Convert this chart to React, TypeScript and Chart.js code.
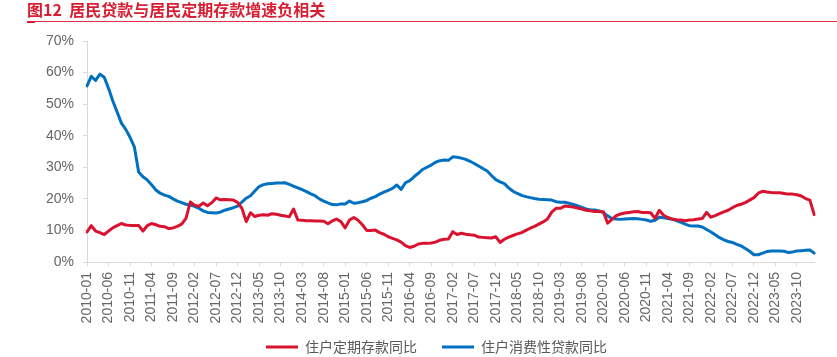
import React, { useEffect, useRef } from 'react';
import { Chart, registerables } from 'chart.js';

Chart.register(...registerables);

// Monthly categories 2010-01 .. 2024-02
const categories: string[] = [];
for (let i = 0; i < 170; i++) {
  const y = 2010 + Math.floor(i / 12);
  const m = (i % 12) + 1;
  categories.push(`${y}-${String(m).padStart(2, '0')}`);
}

const yTicks = [0, 10, 20, 30, 40, 50, 60, 70];

const seriesNames = ['住户定期存款同比', '住户消费性贷款同比'];

// 住户定期存款同比 (%)
const timeDepositYoY = [
  9.5, 11.5, 9.8, 9.3, 8.7, 9.8, 10.8, 11.5, 12.2, 11.7,
  11.6, 11.6, 11.6, 9.8, 11.5, 12.2, 11.8, 11.3, 11.2, 10.6,
  10.8, 11.3, 12.0, 13.8, 19.0, 18.0, 17.6, 18.7, 17.8, 18.8,
  20.3, 19.7, 19.8, 19.7, 19.6, 18.9, 17.0, 12.8, 15.6, 14.4,
  14.8, 15.0, 14.8, 15.3, 15.1, 14.8, 14.6, 14.3, 16.8, 13.3,
  13.2, 13.1, 13.1, 13.0, 13.0, 12.9, 12.1, 13.0, 13.6, 12.8,
  10.8, 13.3, 14.1, 13.2, 11.8, 10.0, 10.0, 10.1, 9.3, 8.8,
  8.0, 7.5, 7.0, 6.3, 5.2, 4.6, 5.0, 5.7, 5.9, 5.9,
  6.0, 6.3, 6.9, 7.2, 7.3, 9.6, 8.7, 9.1, 8.8, 8.6,
  8.5, 7.9, 7.8, 7.7, 7.6, 8.0, 6.2, 7.2, 7.9, 8.4,
  8.9, 9.3, 10.0, 10.7, 11.3, 12.0, 12.7, 13.6, 15.8, 17.0,
  17.0, 17.7, 17.6, 17.4, 17.1, 16.8, 16.4, 16.2, 16.0, 16.0,
  15.9, 12.3, 13.5, 14.7, 15.2, 15.5, 15.7, 15.9, 16.0, 15.7,
  15.7, 15.6, 13.8, 16.4, 14.8, 14.1, 13.6, 13.4, 13.3, 13.1,
  13.3, 13.4, 13.6, 13.8, 15.7, 14.2, 14.7, 15.3, 15.9, 16.4,
  17.2, 17.9, 18.3, 18.8, 19.6, 20.4, 21.8, 22.4, 22.2, 22.0,
  21.9, 21.9, 21.7, 21.5, 21.5, 21.3, 20.9, 20.1, 19.6, 15.0,
];

// 住户消费性贷款同比 (%)
const consumerLoanYoY = [
  55.8, 58.8, 57.5, 59.5, 58.5, 55.0, 51.0, 47.5, 44.0, 42.0,
  39.5, 36.5, 28.5, 27.0, 26.0, 24.5, 22.8, 21.8, 21.2, 20.8,
  20.0, 19.3, 18.8, 18.3, 18.0, 17.6, 17.0, 16.2, 15.7, 15.6,
  15.5, 15.8, 16.4, 16.8, 17.2, 17.7, 19.0, 20.2, 21.0, 22.5,
  23.9, 24.5, 24.8, 24.9, 25.0, 25.0, 25.1, 24.6, 24.0, 23.5,
  22.9, 22.3, 21.6, 21.0, 20.0, 19.3, 18.7, 18.2, 18.1, 18.4,
  18.4, 19.3, 18.6, 18.8, 19.1, 19.5, 20.2, 20.7, 21.5, 22.1,
  22.7, 23.3, 24.4, 23.0, 25.1, 25.8, 27.0, 28.1, 29.3, 30.0,
  30.7, 31.6, 32.1, 32.3, 32.2, 33.3, 33.2, 32.9, 32.5, 31.9,
  31.2, 30.4, 29.6, 28.8, 27.4, 26.1, 25.4, 24.8, 23.5, 22.4,
  21.7, 21.1, 20.7, 20.4, 20.1, 19.9, 19.8, 19.7, 19.6, 19.1,
  18.9, 18.9, 18.6, 18.2, 17.8, 17.3, 16.8, 16.5, 16.5, 16.2,
  15.6, 14.6, 13.8, 13.6, 13.5, 13.6, 13.7, 13.8, 13.7, 13.5,
  13.3, 12.9, 13.2, 14.2, 14.0, 13.8, 13.5, 13.1, 12.6, 12.0,
  11.5, 11.4, 11.4, 11.1, 10.3, 9.5, 8.6, 7.7, 7.0, 6.5,
  6.2, 5.6, 5.1, 4.3, 3.4, 2.3, 2.3, 2.8, 3.3, 3.5,
  3.5, 3.5, 3.4, 3.0, 3.2, 3.5, 3.6, 3.7, 3.8, 2.8,
];

const RED = '#D9122F';
const BLUE = '#0070C0';
const AXIS = '#D9D9D9';
const TEXT = '#666666';
const NUM_FONT = "'Liberation Sans', Arial, 'Noto Sans CJK SC', sans-serif";
const CJK_FONT = "'Noto Sans CJK SC', 'Liberation Sans', sans-serif";

const legendPlacement = {
  id: 'legendPlacement',
  afterLayout(chart: any) {
    const lg = chart.legend;
    if (!lg) return;
    lg.left = 30;
    lg.right = 843;
    lg.top = 315;
    lg.bottom = 366;
  },
};

export default function App() {
  const canvasRef = useRef<HTMLCanvasElement | null>(null);

  useEffect(() => {
    if (!canvasRef.current) return;
    const chart = new Chart(canvasRef.current, {
      type: 'line',
      data: {
        labels: categories,
        datasets: [
          {
            label: seriesNames[0],
            data: timeDepositYoY,
            borderColor: RED,
            backgroundColor: RED,
            borderWidth: 3,
            pointRadius: 0,
            pointHoverRadius: 0,
            pointBorderWidth: 3,
            pointBorderColor: RED,
            tension: 0,
            borderJoinStyle: 'round',
            borderCapStyle: 'round',
          },
          {
            label: seriesNames[1],
            data: consumerLoanYoY,
            borderColor: BLUE,
            backgroundColor: BLUE,
            borderWidth: 3,
            pointRadius: 0,
            pointHoverRadius: 0,
            pointBorderWidth: 3,
            pointBorderColor: BLUE,
            tension: 0,
            borderJoinStyle: 'round',
            borderCapStyle: 'round',
          },
        ],
      },
      options: {
        responsive: false,
        animation: false,
        devicePixelRatio: 1,
        layout: { padding: { top: 41, left: 0, right: 19, bottom: 0 } },
        plugins: {
          title: { display: false },
          tooltip: { enabled: false },
          legend: {
            display: true,
            position: 'bottom',
            maxHeight: 30,
            labels: {
              usePointStyle: true,
              pointStyle: 'line',
              pointStyleWidth: 32,
              padding: 25,
              color: '#595959',
              font: { family: CJK_FONT, size: 14 },
            },
          },
        },
        scales: {
          x: {
            type: 'category',
            offset: false,
            grid: {
              display: true,
              drawOnChartArea: false,
              drawTicks: true,
              tickLength: 4,
              color: AXIS,
              tickColor: (ctx: any) => (ctx.index % 5 === 0 ? AXIS : 'rgba(0,0,0,0)'),
            },
            border: { display: true, color: AXIS, width: 1 },
            ticks: {
              autoSkip: false,
              maxRotation: 90,
              minRotation: 90,
              padding: 6,
              color: TEXT,
              font: { family: NUM_FONT, size: 14 },
              callback: function (this: any, val: any, index: number) {
                return index % 5 === 0 ? categories[index] : '';
              },
            },
            afterFit: (scale: any) => {
              scale.height = 65;
            },
          },
          y: {
            min: yTicks[0],
            max: yTicks[yTicks.length - 1],
            grid: {
              display: true,
              drawOnChartArea: false,
              drawTicks: true,
              tickLength: 4,
              color: AXIS,
              tickColor: AXIS,
            },
            border: { display: true, color: AXIS, width: 1 },
            ticks: {
              stepSize: 10,
              padding: 9,
              color: TEXT,
              font: { family: NUM_FONT, size: 14 },
              callback: (v: any) => `${v}%`,
            },
            afterFit: (scale: any) => {
              scale.width = 87;
            },
          },
        },
      },
      plugins: [legendPlacement],
    });
    return () => chart.destroy();
  }, []);

  return (
    <div style={{ position: 'fixed', left: 0, top: 0, width: 837, height: 357, background: '#fff', overflow: 'hidden' }}>
      <canvas ref={canvasRef} width={837} height={357} style={{ position: 'absolute', left: 0, top: 0, width: 837, height: 357 }} />
      <div
        style={{
          position: 'absolute',
          left: 27,
          top: 1,
          fontFamily: CJK_FONT,
          fontWeight: 700,
          fontSize: 16,
          lineHeight: '16px',
          color: '#D71E32',
          whiteSpace: 'pre',
        }}
      >
        图12  居民贷款与居民定期存款增速负相关
      </div>
      <div style={{ position: 'absolute', left: 27, top: 21, width: 810, height: 1, background: '#E0303F' }} />
      <div style={{ position: 'absolute', left: 27, top: 21, width: 8, height: 2, background: '#D71E32' }} />
    </div>
  );
}
